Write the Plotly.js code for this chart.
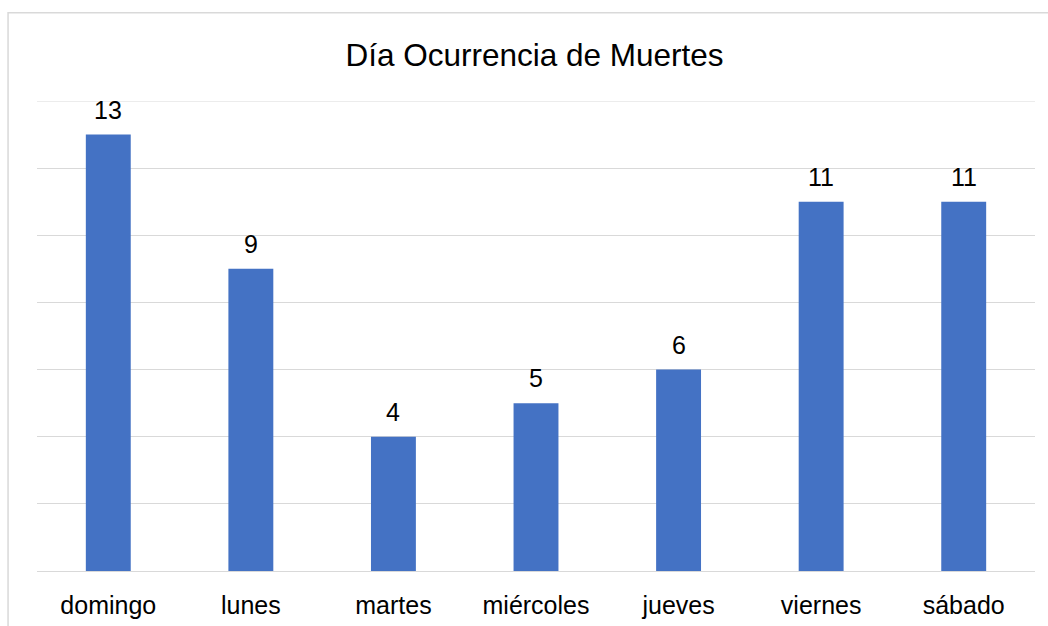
<!DOCTYPE html>
<html><head><meta charset="utf-8">
<script src="https://cdn.plot.ly/plotly-3.0.1.min.js"></script>
<style>html,body{margin:0;padding:0;background:#fff}#chart{width:1048px;height:626px}</style>
</head><body><div id="chart"></div>
<script>
const days = ["domingo","lunes","martes","miércoles","jueves","viernes","sábado"];
const deaths = [13,9,4,5,6,11,11];
const chartTitle = "Día Ocurrencia de Muertes";
const yMax = 14;

const FONT = "Liberation Sans, Arial, sans-serif";
const trace = {
  type: "bar", x: days, y: deaths,
  marker: {color: "#4472c4"},
  cliponaxis: false, hoverinfo: "none"
};
const layout = {
  width: 1048, height: 626,
  margin: {l: 37, r: 13, t: 101, b: 55},
  paper_bgcolor: "#fff", plot_bgcolor: "#fff",
  bargap: 0.685,
  showlegend: false,
  title: {text: chartTitle, x: 0.51, xanchor: "center", y: 0.912, yanchor: "middle",
    font: {family: FONT, size: 31.5, color: "#000"}},
  xaxis: {showgrid: false, showline: true, linecolor: "#d9d9d9", linewidth: 1,
    ticks: "", ticklabelstandoff: 12,
    tickfont: {family: FONT, size: 25, color: "#000"}},
  yaxis: {range: [0, yMax], dtick: 2, showticklabels: false, gridcolor: "#d9d9d9", gridwidth: 1,
    zeroline: false, showline: false, ticks: ""},
  annotations: days.map((d, i) => ({
    x: d, y: deaths[i], xref: "x", yref: "y", text: String(deaths[i]),
    showarrow: false, yanchor: "bottom", yshift: 9,
    font: {family: FONT, size: 25, color: "#000"}
  })),
  shapes: [
    {type: "line", xref: "paper", yref: "y", x0: 0, x1: 1, y0: yMax, y1: yMax,
     line: {color: "#d9d9d9", width: 1}, layer: "below"},
    {type: "rect", xref: "paper", yref: "paper",
    x0: -0.029, x1: 1.2, y0: -0.3, y1: 1.188,
    line: {color: "#d9d9d9", width: 1.5}, fillcolor: "rgba(0,0,0,0)", layer: "below"}]
};
Plotly.newPlot("chart", [trace], layout, {staticPlot: true});
</script></body></html>
